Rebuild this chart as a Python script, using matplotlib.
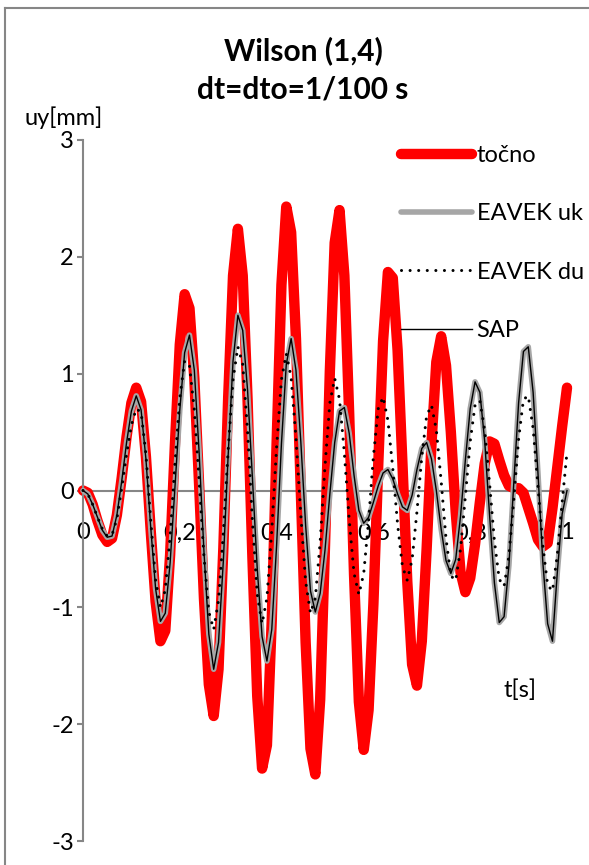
import numpy as np
import matplotlib
matplotlib.use("Agg")
import matplotlib.pyplot as plt
from matplotlib.lines import Line2D

plt.rcParams['font.family'] = ['Lato', 'DejaVu Sans']

# time grid, dt = 1/100 s
t = np.round(np.arange(0, 1.001, 0.01), 2)

# exact solution (red)
tocno = [0.00, -0.02, -0.12, -0.26, -0.38, -0.44, -0.41, -0.21, 0.11, 0.46,
         0.75, 0.88, 0.76, 0.29, -0.35, -0.95, -1.29, -1.20, -0.55, 0.40,
         1.25, 1.68, 1.56, 0.96, 0.04, -0.93, -1.66, -1.93, -1.53, -0.49,
         0.80, 1.84, 2.24, 1.84, 0.78, -0.57, -1.76, -2.38, -2.18, -1.11,
         0.40, 1.76, 2.43, 2.21, 1.30, 0.00, -1.30, -2.21, -2.43, -1.79,
         -0.47, 1.02, 2.12, 2.40, 1.84, 0.65, -0.72, -1.81, -2.22, -1.88,
         -0.97, 0.22, 1.28, 1.87, 1.82, 1.20, 0.23, -0.78, -1.49, -1.67,
         -1.29, -0.50, 0.40, 1.10, 1.32, 1.07, 0.50, -0.18, -0.70, -0.87,
         -0.75, -0.46, -0.10, 0.23, 0.42, 0.40, 0.26, 0.13, 0.04, 0.02,
         0.02, -0.02, -0.15, -0.28, -0.42, -0.48, -0.45, -0.15, 0.20, 0.55,
         0.88]

# EAVEK uk (grey)
eavek_uk = [0.00, -0.03, -0.12, -0.23, -0.34, -0.40, -0.39, -0.21, 0.08, 0.41,
            0.68, 0.81, 0.69, 0.27, -0.32, -0.84, -1.12, -1.05, -0.62, 0.03,
            0.69, 1.18, 1.33, 1.03, 0.32, -0.53, -1.23, -1.53, -1.30, -0.60,
            0.31, 1.11, 1.50, 1.37, 0.86, 0.11, -0.67, -1.25, -1.46, -1.19,
            -0.47, 0.40, 1.08, 1.30, 1.03, 0.42, -0.30, -0.86, -1.04, -0.88,
            -0.51, -0.03, 0.41, 0.68, 0.71, 0.49, 0.13, -0.17, -0.28, -0.23,
            -0.10, 0.04, 0.15, 0.18, 0.10, -0.03, -0.14, -0.17, -0.04, 0.18,
            0.36, 0.41, 0.27, 0.00, -0.33, -0.60, -0.71, -0.59, -0.22, 0.26,
            0.70, 0.93, 0.84, 0.42, -0.21, -0.79, -1.13, -1.08, -0.64, 0.06,
            0.75, 1.19, 1.23, 0.84, 0.15, -0.61, -1.14, -1.29, -0.70, -0.20,
            0.00]

# EAVEK du (dotted)
eavek_du = [0.00, -0.03, -0.12, -0.23, -0.33, -0.39, -0.38, -0.24, 0.02, 0.31,
            0.56, 0.70, 0.67, 0.31, -0.26, -0.77, -1.00, -0.85, -0.39, 0.23,
            0.79, 1.11, 1.07, 0.69, 0.08, -0.57, -1.04, -1.19, -0.94, -0.36,
            0.35, 0.95, 1.23, 1.08, 0.51, -0.26, -0.89, -1.14, -0.92, -0.34,
            0.37, 0.95, 1.17, 0.97, 0.45, -0.21, -0.78, -1.05, -0.92, -0.44,
            0.21, 0.75, 0.96, 0.78, 0.32, -0.25, -0.71, -0.89, -0.71, -0.26,
            0.29, 0.70, 0.80, 0.60, 0.19, -0.29, -0.65, -0.77, -0.59, -0.18,
            0.29, 0.64, 0.73, 0.52, 0.08, -0.41, -0.73, -0.77, -0.50, -0.05,
            0.42, 0.73, 0.77, 0.51, 0.06, -0.43, -0.76, -0.82, -0.56, -0.08,
            0.44, 0.78, 0.81, 0.53, 0.04, -0.47, -0.81, -0.86, -0.55, -0.10,
            0.33]

# SAP coincides with EAVEK uk
sap = list(eavek_uk)

x_ticks = [0, 0.2, 0.4, 0.6, 0.8, 1.0]
x_labels = ["0", "0,2", "0,4", "0,6", "0,8", "1"]
y_ticks = [-3, -2, -1, 0, 1, 2, 3]
y_labels = ["-3", "-2", "-1", "0", "1", "2", "3"]

W, H = 589, 865
axis_grey = "#868686"
fs = 17

fig = plt.figure(figsize=(W / 100, H / 100), dpi=100)
ax = fig.add_axes([83 / W, 24 / H, 484 / W, 701 / H])

ax.plot(t, tocno, color="#ff0000", lw=7.5, solid_joinstyle="round",
        solid_capstyle="round", label="točno", clip_on=False, zorder=2)
ax.plot(t, eavek_uk, color="#a6a6a6", lw=4.0, solid_joinstyle="round",
        solid_capstyle="round", label="EAVEK uk", clip_on=False, zorder=3)
ax.plot(t, eavek_du, color="black", lw=2.2, linestyle=(0, (0.01, 2.8)),
        dash_capstyle="round", label="EAVEK du", clip_on=False, zorder=4)
ax.plot(t, sap, color="black", lw=1.0, label="SAP", clip_on=False, zorder=5)

ax.set_xlim(0, 1)
ax.set_ylim(-3, 3)
ax.set_xticks(x_ticks)
ax.set_xticklabels(x_labels)
ax.set_yticks(y_ticks)
ax.set_yticklabels(y_labels)

for s in ["top", "right"]:
    ax.spines[s].set_visible(False)
ax.spines["bottom"].set_position(("data", 0))
for s in ["left", "bottom"]:
    ax.spines[s].set_color(axis_grey)
    ax.spines[s].set_linewidth(1.5)
ax.spines["bottom"].set_zorder(1)

ax.tick_params(axis="y", direction="out", length=4.5, width=1.5, color=axis_grey,
               pad=2, labelsize=fs)
ax.tick_params(axis="x", length=0, pad=23, labelsize=fs)
ax.patch.set_visible(False)

leg = ax.legend(loc="upper left", bbox_to_anchor=(401 / W, 1 - 145 / H),
                bbox_transform=fig.transFigure, frameon=False, fontsize=fs,
                handlelength=3.0, handletextpad=0.2, labelspacing=1.58,
                borderpad=0, borderaxespad=0)

fig.text(303 / W, 1 - 51 / H, "Wilson (1,4)", ha="center", va="center",
         fontsize=21.5, fontweight="bold")
fig.text(303 / W, 1 - 89 / H, "dt=dto=1/100 s", ha="center", va="center",
         fontsize=21.5, fontweight="bold")
fig.text(25 / W, 1 - 118 / H, "uy[mm]", ha="left", va="center", fontsize=fs)
fig.text(503 / W, 1 - 690 / H, "t[s]", ha="left", va="center", fontsize=fs)

# chart area border
fig.add_artist(Line2D([5 / W, 5 / W], [0, 1 - 8 / H], transform=fig.transFigure,
                      color=axis_grey, lw=1.5))
fig.add_artist(Line2D([5 / W, 1], [1 - 8 / H, 1 - 8 / H], transform=fig.transFigure,
                      color=axis_grey, lw=1.5))

fig.savefig("out.png", dpi=100)
